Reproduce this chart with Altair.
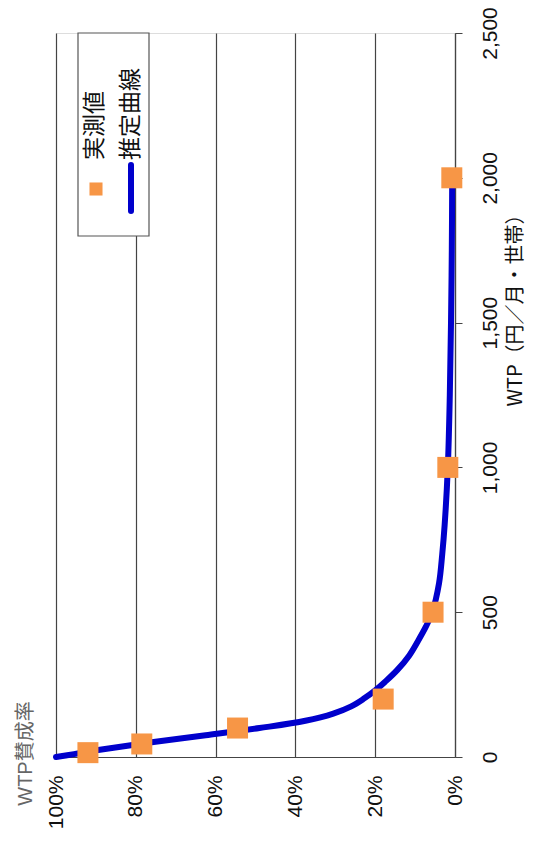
import altair as alt
import pandas as pd

# Observed values (実測値)
obs_wtp = [15, 45, 100, 200, 500, 1000, 2000]
obs_rate = [0.92, 0.785, 0.545, 0.18, 0.055, 0.018, 0.008]

# Estimated curve (推定曲線)
curve_wtp = [0, 10, 25, 50, 75, 100, 125, 150, 175, 200, 230, 260, 300, 350,
             400, 450, 500, 600, 700, 800, 1000, 1250, 1500, 1750, 2000]
curve_rate = [1.00, 0.955, 0.89, 0.765, 0.625, 0.49, 0.375, 0.305, 0.26, 0.23,
              0.20, 0.175, 0.145, 0.115, 0.093, 0.073, 0.057, 0.040, 0.032,
              0.026, 0.018, 0.013, 0.010, 0.008, 0.007]

rate_ticks = [0, 0.2, 0.4, 0.6, 0.8, 1.0]
wtp_ticks = [0, 500, 1000, 1500, 2000, 2500]
legend_labels = ["実測値", "推定曲線"]
x_title = "WTP賛成率"
y_title = "WTP（円／月・世帯）"

LATIN = "Liberation Sans, Noto Sans CJK JP"
CJK = "Noto Sans CJK JP"

obs = pd.DataFrame({"wtp": obs_wtp, "rate": obs_rate})
curve = pd.DataFrame({"wtp": curve_wtp, "rate": curve_rate})

x_enc = alt.X(
    "rate:Q",
    scale=alt.Scale(domain=[0, 1], reverse=True, nice=False),
    axis=alt.Axis(
        values=rate_ticks, format=".0%", labelAngle=270, labelAlign="right",
        labelBaseline="middle", labelPadding=18, ticks=False, tickSize=0,
        grid=True, gridColor="#444", gridWidth=1.2, domainColor="#444",
        domainWidth=1.2, labelFontSize=21, labelFont=LATIN, labelColor="#111",
        labelFlush=False, labelOverlap=False,
        title=x_title, titleAngle=270, titleX=-31, titleY=-4,
        titleAlign="center", titleBaseline="middle", titleFontSize=20,
        titleFontWeight="normal", titleColor="#666", titleFont=LATIN,
    ),
)
y_enc = alt.Y(
    "wtp:Q",
    scale=alt.Scale(domain=[0, 2500], nice=False),
    axis=alt.Axis(
        orient="right", values=wtp_ticks, format=",d", labelAngle=270,
        labelAlign="center", labelBaseline="middle", labelPadding=28,
        tickSize=7, tickColor="#444", grid=False, domainColor="#444",
        domainWidth=1.2, labelFontSize=21, labelFont=LATIN, labelColor="#111",
        labelFlush=False, labelOverlap=False,
        title=y_title, titleAngle=270, titleX=60, titleY=272,
        titleAlign="center", titleBaseline="middle", titleFontSize=20,
        titleFontWeight="normal", titleColor="#111", titleFont=CJK,
    ),
)

line = alt.Chart(curve).mark_line(
    color="#0000CC", strokeWidth=6, interpolate="catmull-rom", strokeCap="round"
).encode(x=x_enc, y=y_enc, order="wtp:Q")

points = alt.Chart(obs).mark_square(
    size=441, color="#F79646", opacity=1
).encode(x="rate:Q", y="wtp:Q")

one = pd.DataFrame({"a": [0]})
leg_box = alt.Chart(one).mark_rect(
    fill="white", stroke="#555", strokeWidth=1.2
).encode(x=alt.value(22), x2=alt.value(93), y=alt.value(0), y2=alt.value(203))
leg_sq = alt.Chart(one).mark_square(size=170, color="#F79646", opacity=1).encode(
    x=alt.value(40), y=alt.value(156))
leg_line = alt.Chart(one).mark_rule(color="#0000CC", strokeWidth=6, strokeCap="round").encode(
    x=alt.value(75), y=alt.value(132), y2=alt.value(178))
leg_t1 = alt.Chart(one).mark_text(
    angle=270, align="left", baseline="middle", fontSize=23, font=CJK, color="#111"
).encode(x=alt.value(39), y=alt.value(127), text=alt.value(legend_labels[0]))
leg_t2 = alt.Chart(one).mark_text(
    angle=270, align="left", baseline="middle", fontSize=23, font=CJK, color="#111"
).encode(x=alt.value(75), y=alt.value(127), text=alt.value(legend_labels[1]))

chart = alt.layer(line, points, leg_box, leg_sq, leg_line, leg_t1, leg_t2).properties(
    width=399, height=724,
    autosize=alt.AutoSizeParams(type="none"),
    padding={"left": 48, "top": 25, "right": 74, "bottom": 81},
).configure_view(stroke="#666", strokeWidth=1.2).configure(background="white")

chart.save("out.html", embed_options={"renderer": "svg", "actions": False})
